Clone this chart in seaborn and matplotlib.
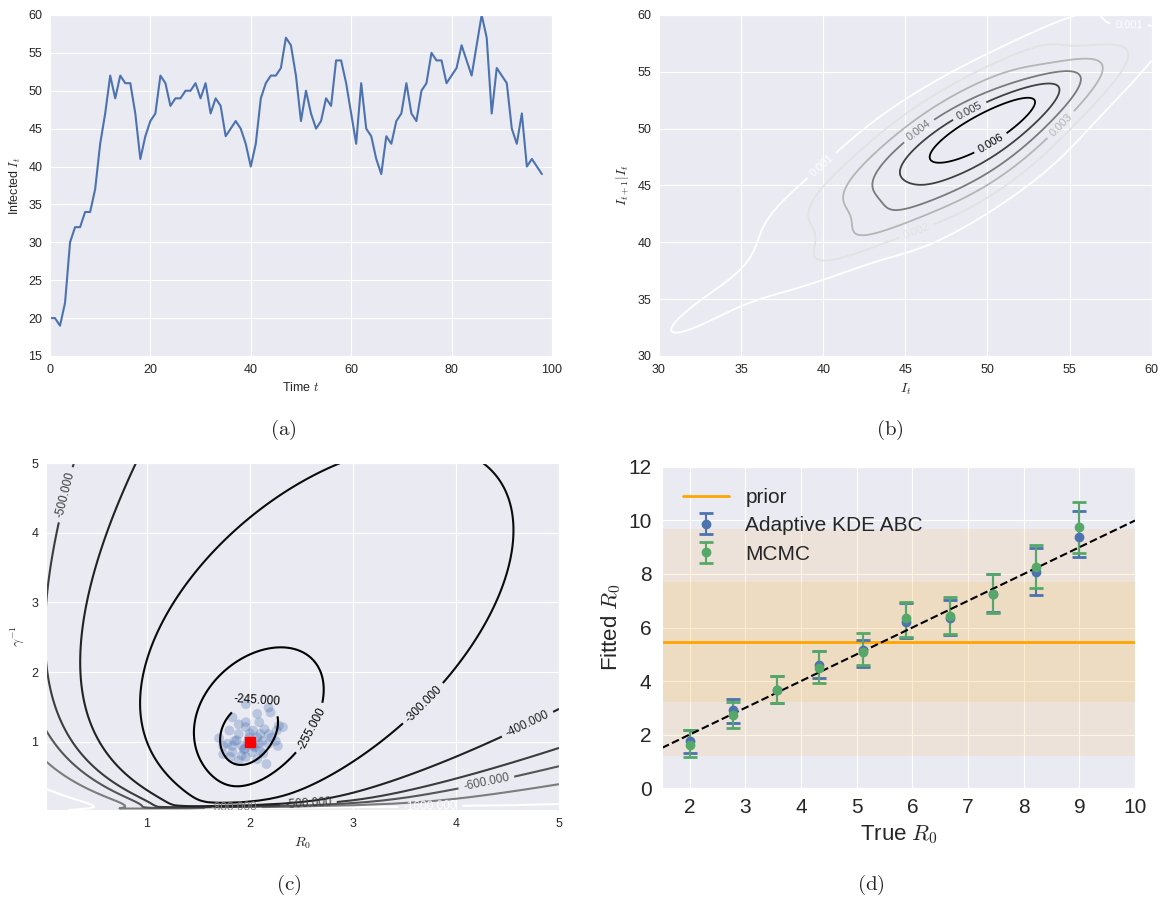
import numpy as np
import pandas as pd
import matplotlib
matplotlib.use("Agg")
import matplotlib.pyplot as plt
import seaborn as sns

# (a) simulated SIS epidemic, infected count per time step
infected = [20, 20, 19, 22, 30, 32, 32, 34, 34, 37, 43, 47, 52, 49, 52, 51, 51, 47, 41, 44,
            46, 47, 52, 51, 48, 49, 49, 50, 50, 51, 49, 51, 47, 49, 48, 44, 45, 46, 45, 43,
            40, 43, 49, 51, 52, 52, 53, 57, 56, 52, 46, 50, 47, 45, 46, 49, 48, 54, 54, 51,
            47, 43, 51, 45, 44, 41, 39, 44, 43, 46, 47, 51, 47, 46, 50, 51, 55, 54, 54, 51,
            52, 53, 56, 54, 52, 56, 60, 57, 47, 53, 52, 51, 45, 43, 47, 40, 41, 40, 39]

# (b) density levels of the transition kernel
kde_levels = [0.001, 0.002, 0.003, 0.004, 0.005, 0.006]

# (c) log-likelihood levels, peak value, ABC samples and true parameter
loglik_levels = [-1600, -800, -600, -500, -400, -300, -255, -245]
peak_loglik = -242
abc_r0 = [1.96, 2.18, 2.20, 1.83, 1.96, 2.07, 2.09, 2.28, 2.26, 1.70, 1.78, 1.74, 1.83, 1.92,
          1.96, 2.10, 2.18, 2.27, 2.16, 1.89, 2.03, 2.10, 1.85, 2.12, 1.92, 2.02, 2.07, 1.89,
          2.18, 1.80, 1.99, 1.96, 1.89, 2.14, 2.21, 1.74, 1.81, 2.03, 1.94, 2.09, 1.83, 1.98,
          2.07, 2.25, 2.32, 1.95, 2.05, 1.87, 2.00, 2.13]
abc_gamma_inv = [1.54, 1.49, 1.42, 1.35, 1.28, 1.40, 1.28, 1.23, 1.16, 1.05, 0.97, 0.82, 0.85,
                 0.80, 0.78, 0.87, 0.97, 0.94, 0.68, 1.11, 1.16, 1.11, 1.01, 1.01, 0.94, 0.85,
                 0.75, 0.73, 1.11, 1.16, 1.06, 1.21, 1.25, 1.18, 1.06, 0.94, 0.78, 0.94, 0.89,
                 0.97, 0.94, 0.99, 1.06, 1.01, 1.21, 0.90, 0.92, 1.02, 1.12, 0.83]
true_param = (2.0, 1.0)

# (d) fitted vs true R0
true_r0 = [2.0, 2.78, 3.56, 4.33, 5.11, 5.89, 6.67, 7.44, 8.22, 9.0]
abc_mean = [1.74, 2.92, 3.67, 4.60, 5.16, 6.22, 6.34, 7.25, 8.06, 9.39]
abc_lo = [1.31, 2.43, 3.17, 4.10, 4.54, 5.60, 5.72, 6.59, 7.21, 8.64]
abc_hi = [2.18, 3.32, 4.19, 5.14, 5.53, 6.90, 7.03, 7.99, 8.96, 10.35]
mcmc_mean = [1.62, 2.74, 3.67, 4.48, 5.10, 6.34, 6.43, 7.25, 8.27, 9.74]
mcmc_lo = [1.16, 2.24, 3.17, 3.94, 4.60, 5.66, 5.75, 6.53, 7.46, 8.79]
mcmc_hi = [2.18, 3.23, 4.19, 5.14, 5.81, 6.97, 7.13, 7.99, 9.08, 10.70]
prior_mean = 5.45
prior_inner = (3.2, 7.7)
prior_outer = (1.2, 9.7)

sns.set_style("darkgrid")
plt.rcParams["font.family"] = ["Liberation Sans", "DejaVu Sans"]
plt.rcParams["mathtext.fontset"] = "cm"

fig = plt.figure(figsize=(11.62, 9.01), dpi=100)
ax_a = fig.add_axes([0.0430, 0.6049, 0.4320, 0.3785])
ax_b = fig.add_axes([0.5671, 0.6049, 0.4240, 0.3785])
ax_c = fig.add_axes([0.0396, 0.1010, 0.4415, 0.3851])
ax_d = fig.add_axes([0.5697, 0.1254, 0.4071, 0.3563])

small = 9

# ---- (a) time series
df_a = pd.DataFrame({"t": np.arange(len(infected)), "I": infected})
sns.lineplot(data=df_a, x="t", y="I", ax=ax_a, color="#4C72B0", lw=1.5)
ax_a.set_xlim(0, 100)
ax_a.set_ylim(15, 60)
ax_a.set_xlabel("Time $t$", fontsize=small)
ax_a.set_ylabel("Infected $I_t$", fontsize=small)
ax_a.tick_params(labelsize=small, pad=2)

# ---- (b) KDE of (I_t, I_{t+1}) pairs
i_now = np.array(infected[:-1], float)
i_next = np.array(infected[1:], float)
pts = np.vstack([i_now, i_next])
n = pts.shape[1]
kcov = np.cov(pts) * n ** (-1.0 / 3.0)  # Scott's rule
kinv = np.linalg.inv(kcov)
gx = np.linspace(30, 60, 240)
GX, GY = np.meshgrid(gx, gx)
dx = GX[..., None] - pts[0]
dy = GY[..., None] - pts[1]
q = kinv[0, 0] * dx ** 2 + 2 * kinv[0, 1] * dx * dy + kinv[1, 1] * dy ** 2
dens = np.exp(-0.5 * q).sum(-1) / (n * 2 * np.pi * np.sqrt(np.linalg.det(kcov)))
cs_b = ax_b.contour(GX, GY, dens, levels=kde_levels, cmap="Greys", linewidths=1.3)
ax_b.clabel(cs_b, fmt="%.3f", fontsize=8)
ax_b.set_xlim(30, 60)
ax_b.set_ylim(30, 60)
ax_b.set_xlabel("$I_t$", fontsize=small + 1)
ax_b.set_ylabel("$I_{t+1}|I_t$", fontsize=small + 1)
ax_b.tick_params(labelsize=small, pad=2)

# ---- (c) log-likelihood of the series under a chain-binomial SIS model
# (Gaussian approximation), shifted so its peak has the figure's value
N_POP = 100
DT = 0.155
NOISE = 0.1
r0_grid = np.linspace(0.02, 5, 220)
g_grid = np.linspace(0.02, 5, 220)
R, G = np.meshgrid(r0_grid, g_grid)
gam = 1.0 / G[..., None]
beta = R[..., None] * gam
s_now = N_POP - i_now
p_inf = 1 - np.exp(-beta * DT * i_now / N_POP)
p_rec = 1 - np.exp(-gam * DT)
mu = i_now + s_now * p_inf - i_now * p_rec
var = s_now * p_inf * (1 - p_inf) + i_now * p_rec * (1 - p_rec) + NOISE
loglik = (-0.5 * np.log(2 * np.pi * var) - 0.5 * (i_next - mu) ** 2 / var).sum(-1)
loglik = loglik - loglik.max() + peak_loglik
cs_c = ax_c.contour(R, G, loglik, levels=loglik_levels, cmap="Greys", linewidths=1.5)
ax_c.clabel(cs_c, fmt="%.3f", fontsize=8.5)
sns.scatterplot(x=abc_r0, y=abc_gamma_inv, ax=ax_c, color="#4C72B0", alpha=0.3,
                s=50, edgecolor="none")
ax_c.scatter([true_param[0]], [true_param[1]], marker="s", color="red", s=45, zorder=5)
ax_c.set_xlim(0.02, 5)
ax_c.set_ylim(0.02, 5)
ax_c.set_xticks([1, 2, 3, 4, 5])
ax_c.set_yticks([1, 2, 3, 4, 5])
ax_c.set_xlabel("$R_0$", fontsize=small + 1)
ax_c.set_ylabel(r"$\gamma^{-1}$", fontsize=small + 1)
ax_c.tick_params(labelsize=small, pad=2)

# ---- (d) fitted vs true R0
ax_d.axhspan(*prior_outer, color="orange", alpha=0.1, lw=0)
ax_d.axhspan(*prior_inner, color="orange", alpha=0.1, lw=0)
ax_d.axhline(prior_mean, color="orange", lw=2, label="prior")
x_arr = np.array(true_r0)
for mean, lo, hi, col, lab in [(abc_mean, abc_lo, abc_hi, "#4C72B0", "Adaptive KDE ABC"),
                               (mcmc_mean, mcmc_lo, mcmc_hi, "#55A868", "MCMC")]:
    m = np.array(mean)
    yerr = [m - np.array(lo), np.array(hi) - m]
    ax_d.errorbar(x_arr, m, yerr=yerr, fmt="o", color=col, ms=6, elinewidth=1.5,
                  capsize=5, capthick=2, label=lab)
ax_d.set_xlim(1.5, 10)
ax_d.set_ylim(0, 12)
lims = np.array(ax_d.get_xlim())
ax_d.plot(lims, lims, "k--", lw=1.5)
ax_d.set_xticks(range(2, 11))
ax_d.set_yticks(range(0, 13, 2))
ax_d.tick_params(labelsize=15, pad=4)
ax_d.set_xlabel("True $R_0$", fontsize=16)
ax_d.set_ylabel("Fitted $R_0$", fontsize=16)
ax_d.legend(loc="upper left", fontsize=15, frameon=False, handlelength=2.2,
            labelspacing=0.45, borderaxespad=0.6)

# captions
for x, y, s in [(0.2435, 0.523, "(a)"), (0.766, 0.523, "(b)"),
                (0.248, 0.018, "(c)"), (0.749, 0.018, "(d)")]:
    fig.text(x, y, r"$\mathrm{" + s + "}$", ha="center", va="center", fontsize=15)

fig.savefig("out.png", dpi=100)
